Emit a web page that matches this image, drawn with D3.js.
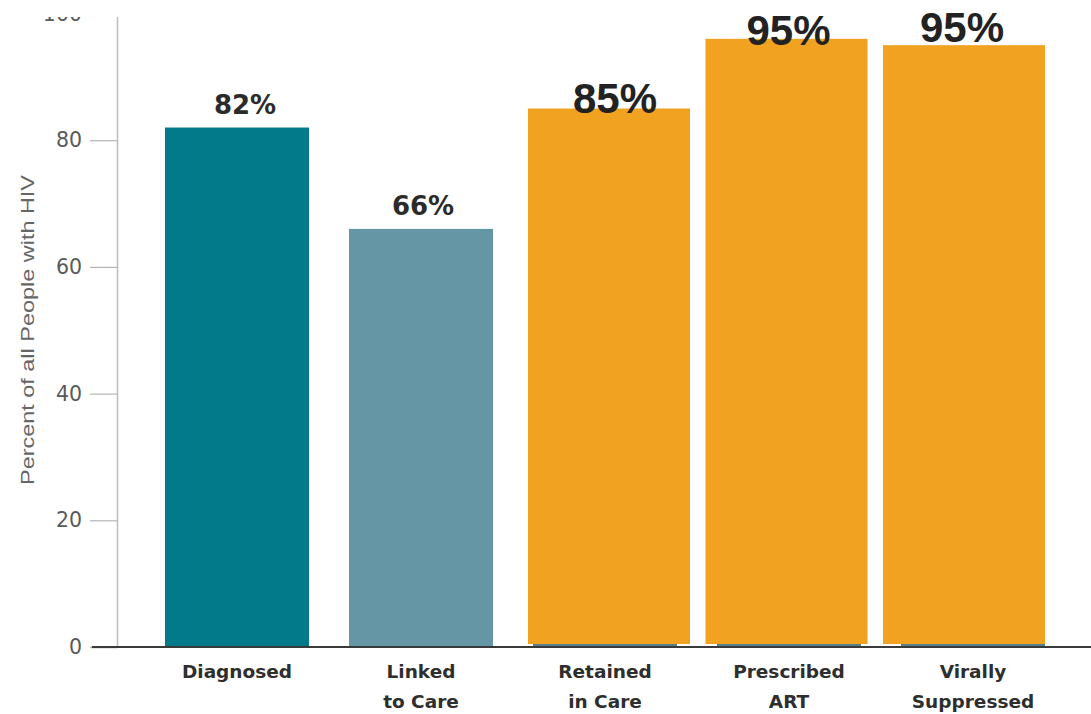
<!DOCTYPE html>
<html>
<head>
<meta charset="utf-8">
<script src="https://cdn.jsdelivr.net/npm/d3@7"></script>
<style>
  html, body { margin: 0; padding: 0; background: #fff; }
  svg { display: block; }
</style>
</head>
<body>
<div id="chart"></div>
<script>
// data
var categories = ["Diagnosed", "Linked to Care", "Retained in Care", "Prescribed ART", "Virally Suppressed"];
var catLines = [["Diagnosed"], ["Linked", "to Care"], ["Retained", "in Care"], ["Prescribed", "ART"], ["Virally", "Suppressed"]];
var values = [82, 66, 85, 96, 95];
var valueLabels = ["82%", "66%", "85%", "95%", "95%"];
var yTicks = [0, 20, 40, 60, 80, 100];
var yTitle = "Percent of all People with HIV";

var W = 1091, H = 714;
var tealCats = categories.slice(0, 2);
var orangeCats = categories.slice(2);
// nudges of the pasted-in orange labels (px)
var orangeLabelDx = [6, 2, -2];
var orangeLabelDy = [4, 6, -3];

var svg = d3.select("#chart").append("svg")
    .attr("width", W)
    .attr("height", H);

// scales
var y = d3.scaleLinear().domain([0, 100]).range([647, 13.5]);
var x = d3.scaleBand().domain(categories)
    .range([145, 1065])
    .paddingInner(40 / 184)
    .paddingOuter(20 / 184);
// the orange bars sit on their own (wider) band
var x2 = d3.scaleBand().domain(orangeCats)
    .range([528, 1045])
    .paddingInner(0.0873)
    .paddingOuter(0);

var tealColors = { "Diagnosed": "#027a89", "Linked to Care": "#6596a6" };
var orange = "#f0a220";

// clip for top edge (chart cut off above)
svg.append("clipPath").attr("id", "topcut")
  .append("rect").attr("x", -200).attr("y", 17).attr("width", W).attr("height", H);

// y axis
var axisY = d3.axisLeft(y).tickValues(yTicks).tickSize(27).tickPadding(8);
var gY = svg.append("g")
    .attr("transform", "translate(117,0)")
    .attr("clip-path", "url(#topcut)")
    .call(axisY);
gY.select(".domain").attr("stroke", "#bdbdbd").attr("stroke-width", 1.5);
gY.selectAll(".tick line").attr("stroke", "#b5b5b5").attr("stroke-width", 1.2);
gY.selectAll(".tick text")
    .attr("font-family", "'DejaVu Sans', sans-serif")
    .attr("font-size", 20.5)
    .attr("fill", "#5a5a5a");

// y title
svg.append("text")
    .attr("transform", "translate(34,330) rotate(-90)")
    .attr("text-anchor", "middle")
    .attr("font-family", "'Liberation Sans', Arial, sans-serif")
    .attr("font-size", 19)
    .attr("textLength", 310)
    .attr("lengthAdjust", "spacingAndGlyphs")
    .attr("fill", "#666")
    .text(yTitle);

// teal bars
svg.append("g").selectAll("rect")
    .data(tealCats)
  .enter().append("rect")
    .attr("x", function(d) { return x(d); })
    .attr("width", x.bandwidth())
    .attr("y", function(d) { return y(values[categories.indexOf(d)]); })
    .attr("height", function(d) { return y(0) - y(values[categories.indexOf(d)]); })
    .attr("fill", function(d) { return tealColors[d]; });

// faint remains of the original bars under the orange ones
svg.append("g").selectAll("rect")
    .data(orangeCats)
  .enter().append("rect")
    .attr("x", function(d) { return x(d); })
    .attr("width", x.bandwidth())
    .attr("y", y(0) - 3)
    .attr("height", 3)
    .attr("fill", "#55808c");

// orange bars
svg.append("g").selectAll("rect")
    .data(orangeCats)
  .enter().append("rect")
    .attr("x", function(d) { return x2(d); })
    .attr("width", x2.bandwidth())
    .attr("y", function(d) { return y(values[categories.indexOf(d)]); })
    .attr("height", function(d) { return y(0) - 3 - y(values[categories.indexOf(d)]); })
    .attr("fill", orange);

// x axis line
svg.append("line")
    .attr("x1", 92).attr("x2", W)
    .attr("y1", y(0)).attr("y2", y(0))
    .attr("stroke", "#3a3a3a")
    .attr("stroke-width", 2);

// teal value labels
svg.append("g").selectAll("text")
    .data(tealCats)
  .enter().append("text")
    .attr("x", function(d, i) { return x(d) + x.bandwidth() / 2 + (i == 0 ? 8 : 2); })
    .attr("y", function(d) { return y(values[categories.indexOf(d)]) - 14; })
    .attr("text-anchor", "middle")
    .attr("font-family", "'DejaVu Sans', sans-serif")
    .attr("font-weight", "bold")
    .attr("font-size", 26)
    .attr("fill", "#2b2b2b")
    .text(function(d) { return valueLabels[categories.indexOf(d)]; });

// orange value labels
svg.append("g").selectAll("text")
    .data(orangeCats)
  .enter().append("text")
    .attr("x", function(d, i) { return x2(d) + x2.bandwidth() / 2 + orangeLabelDx[i]; })
    .attr("y", function(d, i) { return y(values[categories.indexOf(d)]) + orangeLabelDy[i]; })
    .attr("text-anchor", "middle")
    .attr("font-family", "'Liberation Sans', Arial, sans-serif")
    .attr("font-weight", "bold")
    .attr("font-size", 42)
    .attr("fill", "#222")
    .text(function(d) { return valueLabels[categories.indexOf(d)]; });

// category labels
var catG = svg.append("g").selectAll("text")
    .data(categories)
  .enter().append("text")
    .attr("text-anchor", "middle")
    .attr("font-family", "'DejaVu Sans', sans-serif")
    .attr("font-weight", "bold")
    .attr("font-size", 18.5)
    .attr("fill", "#2e2e2e");

catG.selectAll("tspan")
    .data(function(d) { return catLines[categories.indexOf(d)].map(function(t) { return { t: t, c: d }; }); })
  .enter().append("tspan")
    .attr("x", function(d) { return x(d.c) + x.bandwidth() / 2; })
    .attr("y", function(d, i) { return 678 + i * 30; })
    .text(function(d) { return d.t; });
</script>
</body>
</html>
